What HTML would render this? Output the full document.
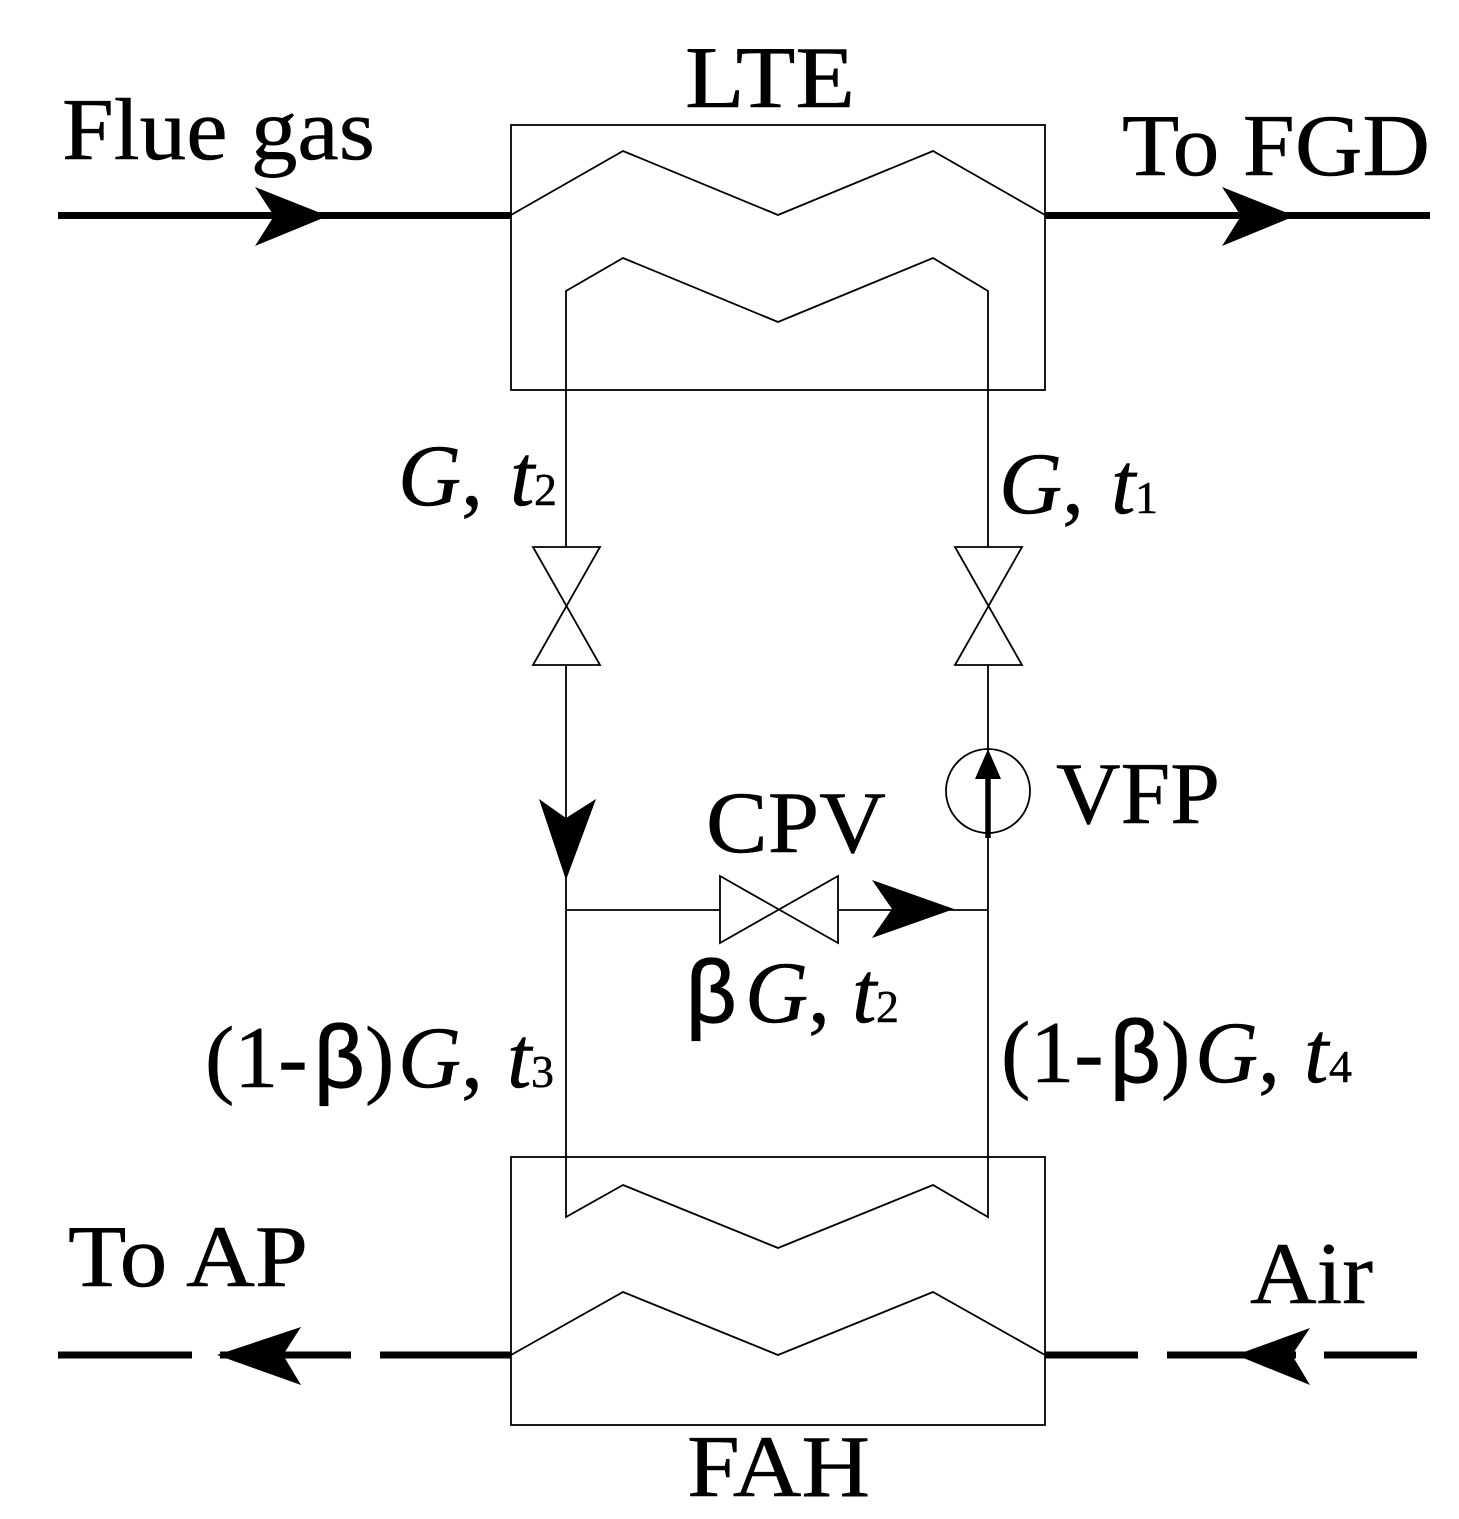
<!DOCTYPE html>
<html><head><meta charset="utf-8"><style>
html,body{margin:0;padding:0;background:#fff}
svg{display:block}
text{font-family:"Liberation Serif",serif;font-size:88px;fill:#000;stroke:#000;stroke-width:.5}
.s{font-size:46px}
.i{font-style:italic}
.b{font-family:"Liberation Sans",sans-serif;stroke-width:1.2}
</style></head><body>
<svg width="1459" height="1519" viewBox="0 0 1459 1519" xmlns="http://www.w3.org/2000/svg">
<g fill="none" stroke="#000" stroke-width="1.8">
<rect x="511" y="125" width="534" height="265"/>
<rect x="511" y="1157" width="534" height="268"/>
<polyline points="511,215 623,151 778,215 933,151 1045,215"/>
<polyline points="566,390 566,291 623,258 778,322 933,258 988,291 988,390"/>
<polyline points="566,1157 566,1217 623,1185 778,1248 933,1185 988,1217 988,1157"/>
<polyline points="511,1355 623,1292 778,1355 933,1292 1045,1355"/>
<path d="M566,390V547M988,390V547M566,665V1157M988,665V1157M566,910H720M838,910H988"/>
<path d="M533,547H600L533,665H600ZM955,547H1022L955,665H1022Z"/>
<path d="M720,876V943L838,876V943Z"/>
<circle cx="988" cy="791" r="42"/>
</g>
<g stroke="#000" stroke-width="7" fill="none">
<path d="M58,215.5H511M1045,215.5H1430M58,1355H192M220,1355H351M380,1355H511M1045,1355H1138M1167,1355H1296M1324,1355H1417"/>
<path d="M988,770V838" stroke-width="5.5"/>
</g>
<g fill="#000">
<path d="M328,216L255,187L274,216L255,246Z"/>
<path d="M1295,216L1222,187L1241,216L1222,246Z"/>
<path d="M217,1355L301,1327L283,1355L301,1385Z"/>
<path d="M1236,1355L1310,1328L1292,1355L1310,1385Z"/>
<path d="M566,880L539,799L566,818L596,799Z"/>
<path d="M954,909L872,880L892,909L872,938Z"/>
<path d="M988,749L975,779H1001Z"/>
</g>
<text x="685" y="107" textLength="170" lengthAdjust="spacingAndGlyphs">LTE</text>
<text x="62" y="159" textLength="313" lengthAdjust="spacingAndGlyphs">Flue gas</text>
<text x="1122" y="175" textLength="308" lengthAdjust="spacingAndGlyphs">To FGD</text>
<text x="398" y="505" textLength="85" lengthAdjust="spacingAndGlyphs"><tspan class="i">G</tspan>,</text>
<text x="510" y="505" class="i">t</text><text x="534" y="505" class="s">2</text>
<text x="999" y="513" textLength="85" lengthAdjust="spacingAndGlyphs"><tspan class="i">G</tspan>,</text>
<text x="1111" y="513" class="i">t</text><text x="1135" y="513" class="s">1</text>
<text x="1056" y="823" textLength="164" lengthAdjust="spacingAndGlyphs">VFP</text>
<text x="706" y="852" textLength="180" lengthAdjust="spacingAndGlyphs">CPV</text>
<text x="686" y="1022" class="b">β</text>
<text x="745" y="1022" textLength="85" lengthAdjust="spacingAndGlyphs"><tspan class="i">G</tspan>,</text>
<text x="852" y="1022" class="i">t</text><text x="876" y="1022" class="s">2</text>
<text x="205" y="1087">(1-</text>
<text x="314" y="1087" class="b">β</text>
<text x="365" y="1087">)</text>
<text x="398" y="1087" textLength="85" lengthAdjust="spacingAndGlyphs"><tspan class="i">G</tspan>,</text>
<text x="507" y="1087" class="i">t</text><text x="531" y="1087" class="s">3</text>
<text x="1001" y="1082">(1-</text>
<text x="1110" y="1082" class="b">β</text>
<text x="1161" y="1082">)</text>
<text x="1195" y="1082" textLength="85" lengthAdjust="spacingAndGlyphs"><tspan class="i">G</tspan>,</text>
<text x="1304" y="1082" class="i">t</text><text x="1329" y="1082" class="s">4</text>
<text x="68" y="1286" textLength="240" lengthAdjust="spacingAndGlyphs">To AP</text>
<text x="1250" y="1303" textLength="123" lengthAdjust="spacingAndGlyphs">Air</text>
<text x="687" y="1496" textLength="183" lengthAdjust="spacingAndGlyphs">FAH</text>
</svg>
</body></html>
